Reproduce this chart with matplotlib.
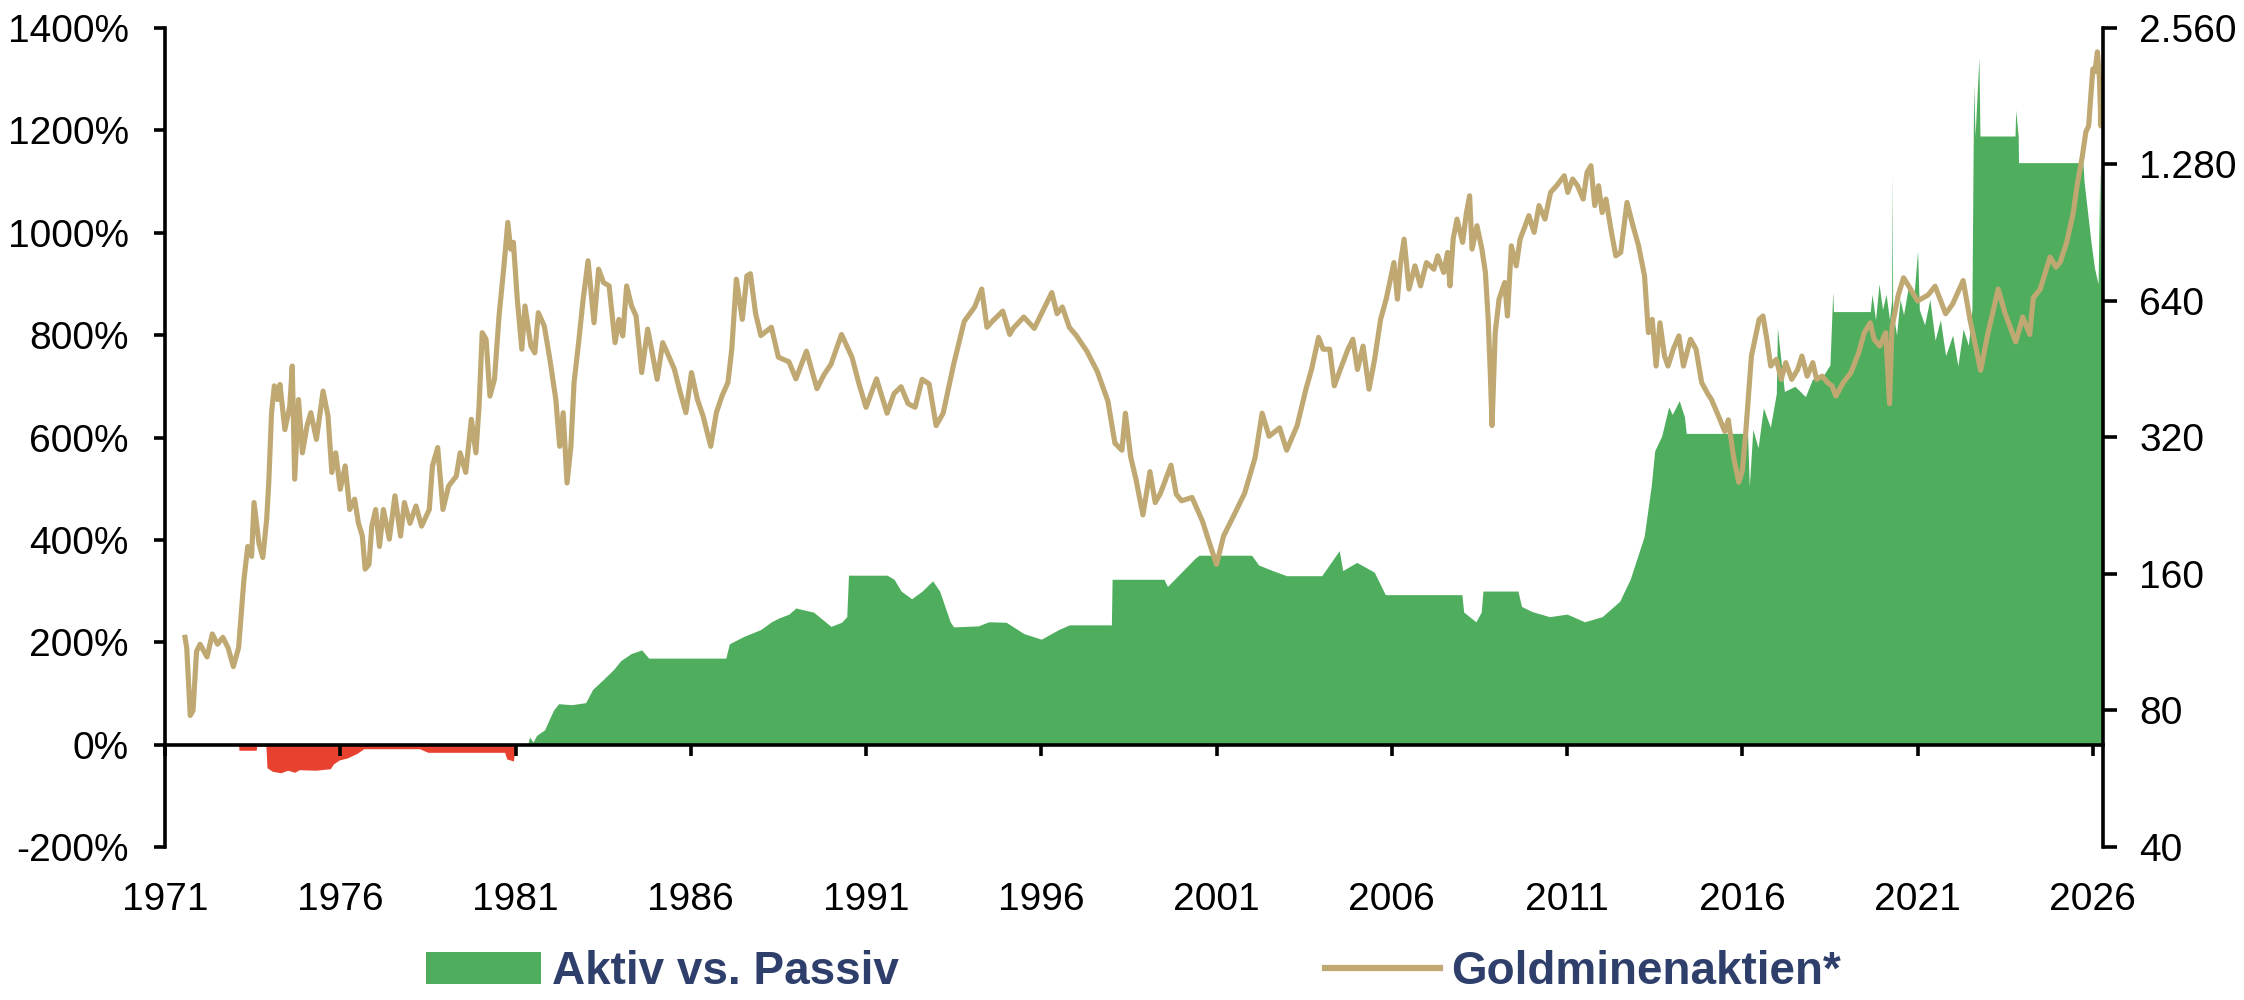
import numpy as np
import matplotlib
matplotlib.use("Agg")
import matplotlib.pyplot as plt
from matplotlib.patches import Patch
from matplotlib.lines import Line2D

plt.rcParams['font.family'] = ['Liberation Sans', 'DejaVu Sans']

# Aktiv vs. Passiv (left axis, %)
aktiv_years = [
    1971.57, 1973.10, 1973.11, 1973.60, 1973.62, 1973.88, 1973.91, 1974.06, 1974.30, 1974.50,
    1974.70, 1974.83, 1975.30, 1975.72, 1975.80, 1975.97, 1976.20, 1976.45, 1976.50, 1976.67,
    1978.26, 1978.50, 1980.69, 1980.75, 1980.94, 1981.00, 1981.35, 1981.40, 1981.50, 1981.60,
    1981.83, 1982.00, 1982.09, 1982.23, 1982.60, 1983.00, 1983.20, 1983.50, 1983.80, 1984.00,
    1984.30, 1984.60, 1984.80, 1987.00, 1987.10, 1987.50, 1988.00, 1988.30, 1988.50, 1988.80,
    1989.00, 1989.30, 1989.50, 1990.00, 1990.30, 1990.45, 1990.50, 1991.60, 1991.80, 1992.00,
    1992.30, 1992.60, 1992.90, 1993.10, 1993.40, 1993.50, 1994.20, 1994.50, 1995.00, 1995.50,
    1996.00, 1996.50, 1996.80, 1998.00, 1998.02, 1999.50, 1999.60, 2000.00, 2000.40, 2000.50,
    2002.00, 2002.20, 2002.60, 2003.00, 2004.00, 2004.50, 2004.60, 2005.00, 2005.50, 2005.80,
    2005.82, 2008.00, 2008.05, 2008.40, 2008.55, 2008.60, 2009.60, 2009.70, 2010.00, 2010.50,
    2011.00, 2011.50, 2012.00, 2012.50, 2012.80, 2013.00, 2013.20, 2013.40, 2013.50, 2013.70,
    2013.90, 2014.00, 2014.20, 2014.35, 2014.40, 2016.15, 2016.20, 2016.30, 2016.45, 2016.60,
    2016.80, 2016.97, 2017.00, 2017.20, 2017.50, 2017.80, 2018.00, 2018.30, 2018.50, 2018.58,
    2018.60, 2019.65, 2019.70, 2019.80, 2019.90, 2020.00, 2020.10, 2020.20, 2020.26, 2020.27,
    2020.29, 2020.40, 2020.50, 2020.60, 2020.75, 2020.90, 2021.00, 2021.05, 2021.20, 2021.35,
    2021.50, 2021.65, 2021.80, 2022.00, 2022.15, 2022.30, 2022.45, 2022.55, 2022.60, 2022.64,
    2022.75, 2022.78, 2023.78, 2023.80, 2023.87, 2023.88, 2025.64, 2025.70, 2025.75, 2025.85,
    2025.95, 2026.05, 2026.15, 2026.20, 2026.23, 2026.29,
]
aktiv_values = [
    0, 0, -11, -11, -3, -3, -45, -52, -55, -50,
    -54, -49, -50, -47, -38, -30, -26, -18, -16, -8,
    -8, -15, -15, -28, -32, 0, 0, 15, 5, 18,
    29, 55, 68, 80, 78, 82, 108, 127, 147, 164,
    178, 185, 169, 169, 197, 211, 225, 240, 247, 255,
    267, 262, 259, 231, 239, 250, 331, 331, 323, 300,
    285, 300, 320, 300, 240, 230, 232, 240, 239, 217,
    206, 225, 234, 234, 323, 323, 309, 337, 365, 370,
    370, 351, 340, 330, 330, 379, 340, 356, 337, 295,
    293, 293, 259, 240, 259, 300, 300, 270, 260, 250,
    255, 240, 250, 280, 323, 365, 407, 505, 574, 603,
    660, 645, 672, 640, 608, 608, 505, 616, 580, 658,
    620, 686, 814, 690, 700, 680, 714, 720, 742, 885,
    846, 846, 880, 830, 900, 850, 880, 830, 870, 1117,
    850, 800, 870, 840, 900, 880, 965, 850, 820, 870,
    790, 830, 760, 800, 740, 812, 780, 850, 1290, 1189,
    1342, 1189, 1189, 1240, 1189, 1137, 1137, 1158, 1100, 1040,
    980, 930, 900, 1130, 920, 1000,
]

# Goldminenaktien* (right axis, log scale)
gold_years = [
    1971.57, 1971.62, 1971.68, 1971.72, 1971.80, 1971.90, 1972.00, 1972.20, 1972.35, 1972.50,
    1972.65, 1972.80, 1972.95, 1973.10, 1973.25, 1973.36, 1973.47, 1973.54, 1973.68, 1973.79,
    1973.90, 1973.96, 1974.04, 1974.12, 1974.21, 1974.28, 1974.42, 1974.56, 1974.63, 1974.70,
    1974.81, 1974.92, 1975.05, 1975.16, 1975.32, 1975.51, 1975.65, 1975.76, 1975.87, 1976.00,
    1976.14, 1976.27, 1976.41, 1976.52, 1976.63, 1976.71, 1976.82, 1976.90, 1977.01, 1977.12,
    1977.23, 1977.40, 1977.56, 1977.72, 1977.83, 1977.99, 1978.16, 1978.32, 1978.54, 1978.63,
    1978.78, 1978.93, 1979.09, 1979.31, 1979.42, 1979.58, 1979.74, 1979.87, 1979.96, 1980.05,
    1980.16, 1980.27, 1980.40, 1980.53, 1980.67, 1980.78, 1980.86, 1980.94, 1981.05, 1981.18,
    1981.27, 1981.44, 1981.55, 1981.65, 1981.82, 1981.98, 1982.15, 1982.26, 1982.36, 1982.47,
    1982.58, 1982.67, 1982.80, 1982.93, 1983.07, 1983.24, 1983.37, 1983.51, 1983.67, 1983.84,
    1983.95, 1984.06, 1984.17, 1984.31, 1984.44, 1984.60, 1984.77, 1984.90, 1985.04, 1985.20,
    1985.37, 1985.53, 1985.70, 1985.86, 1986.02, 1986.19, 1986.35, 1986.52, 1986.57, 1986.73,
    1986.89, 1987.06, 1987.17, 1987.30, 1987.47, 1987.60, 1987.70, 1987.85, 1988.00, 1988.30,
    1988.50, 1988.80, 1989.00, 1989.30, 1989.60, 1989.80, 1990.00, 1990.30, 1990.60, 1990.80,
    1991.00, 1991.30, 1991.60, 1991.80, 1992.00, 1992.20, 1992.40, 1992.60, 1992.80, 1993.00,
    1993.20, 1993.50, 1993.80, 1994.10, 1994.30, 1994.45, 1994.60, 1994.90, 1995.10, 1995.20,
    1995.50, 1995.80, 1996.10, 1996.30, 1996.45, 1996.60, 1996.80, 1997.00, 1997.30, 1997.60,
    1997.90, 1998.10, 1998.30, 1998.40, 1998.55, 1998.70, 1998.90, 1999.10, 1999.25, 1999.40,
    1999.70, 1999.85, 2000.00, 2000.30, 2000.60, 2000.80, 2001.00, 2001.20, 2001.50, 2001.80,
    2002.10, 2002.30, 2002.50, 2002.80, 2003.00, 2003.30, 2003.55, 2003.71, 2003.91, 2004.04,
    2004.23, 2004.36, 2004.53, 2004.75, 2004.89, 2005.02, 2005.18, 2005.35, 2005.51, 2005.68,
    2005.84, 2006.06, 2006.16, 2006.25, 2006.35, 2006.49, 2006.66, 2006.82, 2006.99, 2007.20,
    2007.31, 2007.48, 2007.59, 2007.66, 2007.75, 2007.86, 2008.02, 2008.13, 2008.22, 2008.29,
    2008.43, 2008.57, 2008.67, 2008.75, 2008.82, 2008.86, 2008.95, 2009.06, 2009.22, 2009.30,
    2009.41, 2009.55, 2009.66, 2009.77, 2009.91, 2010.06, 2010.20, 2010.37, 2010.53, 2010.70,
    2010.92, 2011.02, 2011.16, 2011.30, 2011.46, 2011.57, 2011.68, 2011.79, 2011.90, 2012.00,
    2012.11, 2012.25, 2012.39, 2012.53, 2012.71, 2012.88, 2013.04, 2013.21, 2013.32, 2013.43,
    2013.54, 2013.65, 2013.78, 2013.88, 2014.03, 2014.19, 2014.32, 2014.52, 2014.68, 2014.84,
    2015.01, 2015.12, 2015.30, 2015.50, 2015.60, 2015.75, 2015.90, 2016.00, 2016.10, 2016.26,
    2016.48, 2016.59, 2016.70, 2016.81, 2016.97, 2017.11, 2017.24, 2017.41, 2017.58, 2017.70,
    2017.85, 2018.01, 2018.12, 2018.28, 2018.43, 2018.56, 2018.67, 2018.88, 2019.10, 2019.32,
    2019.48, 2019.65, 2019.76, 2019.92, 2020.09, 2020.20, 2020.27, 2020.45, 2020.60, 2020.75,
    2021.00, 2021.30, 2021.50, 2021.80, 2022.00, 2022.30, 2022.50, 2022.80, 2023.00, 2023.30,
    2023.50, 2023.80, 2024.00, 2024.20, 2024.30, 2024.50, 2024.78, 2024.95, 2025.07, 2025.25,
    2025.44, 2025.55, 2025.70, 2025.80, 2025.88, 2026.00, 2026.06, 2026.13, 2026.19, 2026.23,
    2026.28,
]
gold_values = [
    116, 110, 90, 78, 80, 108, 112, 105, 118, 112,
    116, 110, 100, 110, 155, 184, 175, 230, 187, 174,
    211, 254, 363, 416, 388, 419, 333, 375, 460, 259,
    388, 296, 339, 363, 317, 405, 357, 268, 296, 246,
    277, 222, 234, 207, 194, 164, 168, 204, 222, 184,
    222, 191, 238, 194, 230, 207, 226, 204, 222, 277,
    304, 222, 250, 263, 296, 268, 351, 296, 375, 545,
    527, 395, 430, 593, 765, 954, 833, 862, 646, 501,
    624, 509, 492, 603, 564, 476, 388, 306, 363, 254,
    306, 423, 518, 646, 785, 573, 752, 703, 691, 518,
    583, 536, 691, 624, 593, 445, 555, 492, 430, 518,
    484, 453, 402, 363, 445, 388, 357, 317, 306, 363,
    395, 423, 501, 715, 583, 727, 735, 600, 537, 560,
    481, 470, 431, 496, 410, 440, 464, 540, 481, 420,
    373, 431, 362, 400, 414, 380, 373, 430, 420, 340,
    362, 464, 577, 621, 680, 560, 577, 608, 540, 557,
    590, 557, 621, 668, 600, 621, 560, 537, 496, 447,
    385, 311, 300, 362, 290, 259, 216, 269, 230, 241,
    278, 240, 232, 236, 209, 187, 168, 194, 216, 241,
    289, 362, 322, 336, 300, 340, 409, 452, 532, 501,
    501, 416, 452, 501, 527, 452, 509, 409, 476, 583,
    646, 778, 646, 778, 876, 680, 765, 691, 778, 752,
    805, 740, 819, 691, 876, 970, 862, 1003, 1092, 833,
    938, 833, 740, 583, 423, 340, 545, 646, 703, 593,
    847, 765, 876, 922, 987, 907, 1039, 970, 1111, 1149,
    1209, 1111, 1189, 1149, 1074, 1230, 1272, 1039, 1149, 1003,
    1074, 922, 805, 819, 1056, 938, 847, 727, 545, 583,
    460, 573, 484, 460, 501, 536, 460, 527, 501, 423,
    400, 388, 360, 330, 350, 290, 255, 270, 330, 484,
    583, 593, 527, 460, 476, 430, 468, 430, 452, 484,
    437, 468, 430, 437, 423, 416, 395, 423, 445, 492,
    545, 573, 527, 509, 545, 380, 560, 660, 720, 690,
    640, 660, 690, 600, 630, 710, 580, 450, 540, 680,
    600, 520, 590, 540, 650, 680, 800, 760, 780, 860,
    1000, 1150, 1334, 1509, 1557, 2080, 2050, 2268, 1977, 1557,
    1908,
]

year_ticks = [1971, 1976, 1981, 1986, 1991, 1996, 2001, 2006, 2011, 2016, 2021, 2026]
left_ticks = [-200, 0, 200, 400, 600, 800, 1000, 1200, 1400]
right_ticks = [40, 80, 160, 320, 640, 1280, 2560]
right_labels = ['40', '80', '160', '320', '640', '1.280', '2.560']

green = '#4FAE5E'
red = '#E8412F'
gold = '#BFA872'
navy = '#2F3F6B'

x = np.array(aktiv_years)
y = np.array(aktiv_values, dtype=float)

fig = plt.figure(figsize=(22.44, 10), dpi=100)
ax = fig.add_axes([165 / 2244, 153 / 1000, 1938 / 2244, 819 / 1000])

ax.fill_between(x, 0, np.maximum(y, 0), color=green, linewidth=0)
ax.fill_between(x, 0, np.minimum(y, 0), color=red, linewidth=0)

ax.set_xlim(1971, 2026.29)
ax.set_ylim(-200, 1400)
ax.set_yticks(left_ticks)
ax.set_yticklabels([f'{v}%' for v in left_ticks])
ax.set_xticks(year_ticks)
ax.set_xticklabels([str(v) for v in year_ticks])

ax.spines['top'].set_visible(False)
ax.spines['right'].set_visible(False)
ax.spines['bottom'].set_position(('data', 0))
for s in ['left', 'bottom']:
    ax.spines[s].set_linewidth(2.6)
    ax.spines[s].set_zorder(5)
ax.tick_params(axis='y', direction='out', length=8, width=2.6, labelsize=28, pad=18)
ax.tick_params(axis='x', direction='out', length=8, width=2.6, labelsize=28, pad=91)

ax2 = ax.twinx()
ax2.plot(gold_years, gold_values, color=gold, linewidth=3.7, solid_joinstyle='round')
ax2.set_yscale('log', base=2)
ax2.set_ylim(40, 2560)
ax2.set_yticks(right_ticks)
ax2.set_yticklabels(right_labels)
ax2.yaxis.set_minor_locator(matplotlib.ticker.NullLocator())
for s in ['top', 'left', 'bottom']:
    ax2.spines[s].set_visible(False)
ax2.spines['right'].set_linewidth(2.6)
ax2.tick_params(axis='y', direction='out', length=10, width=2.6, labelsize=28, pad=16)

handles = [Patch(facecolor=green, edgecolor='none'),
           Line2D([], [], color=gold, linewidth=4.5)]
fig.legend(handles, ['Aktiv vs. Passiv', 'Goldminenaktien*'],
           loc='center left', bbox_to_anchor=(426 / 2244, 0.028), ncol=2,
           frameon=False, handlelength=2.5, handleheight=0.7, handletextpad=0.25,
           columnspacing=9.3, borderpad=0, borderaxespad=0, labelcolor=navy,
           prop={'size': 33, 'weight': 'bold'})

fig.savefig('out.png', dpi=100)
